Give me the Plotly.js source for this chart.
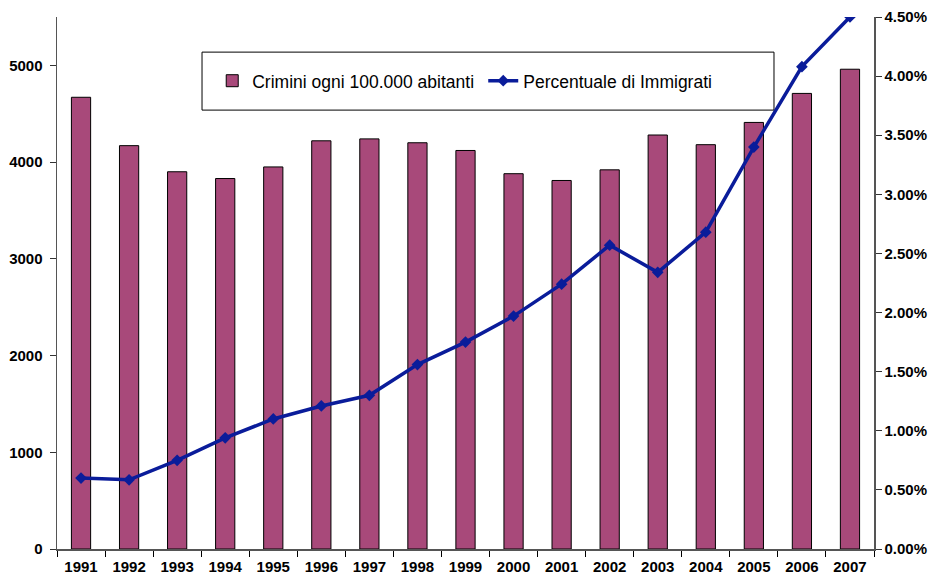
<!DOCTYPE html>
<html>
<head>
<meta charset="utf-8">
<script src="https://cdn.plot.ly/plotly-3.0.1.min.js"></script>
<style>html,body{margin:0;padding:0;background:#fff;}#chart{width:940px;height:575px;}</style>
</head>
<body>
<div id="chart"></div>
<script>
const years = ["1991","1992","1993","1994","1995","1996","1997","1998","1999","2000","2001","2002","2003","2004","2005","2006","2007"];
const crimini = [4670,4170,3900,3830,3950,4220,4240,4200,4120,3880,3810,3920,4280,4180,4410,4710,4960];
const immigrati = [0.60,0.585,0.75,0.94,1.10,1.21,1.30,1.56,1.75,1.97,2.24,2.57,2.34,2.68,3.40,4.08,4.50];
const leftTicks = [0,1000,2000,3000,4000,5000];
const rightTicks = [0,0.5,1,1.5,2,2.5,3,3.5,4,4.5];

const tickFont = {family:"Liberation Sans, Arial, sans-serif", size:15, color:"#000", weight:"bold"};

const traces = [
  {type:"bar", x:years, y:crimini, name:"Crimini ogni 100.000 abitanti",
   marker:{color:"#a8497a", line:{color:"#000", width:1}}, yaxis:"y"},
  {type:"scatter", mode:"lines+markers", x:years, y:immigrati, name:"Percentuale di Immigrati",
   line:{color:"#0a1c9a", width:3.5}, marker:{symbol:"diamond", size:9, color:"#0a1c9a"}, yaxis:"y2"}
];

const layout = {
  width:940, height:575,
  margin:{l:57, r:66, t:17, b:26},
  paper_bgcolor:"#fff", plot_bgcolor:"#fff",
  bargap:0.6,
  showlegend:true,
  legend:{orientation:"h", x:0.19, y:0.88, xanchor:"left", yanchor:"middle",
    font:{family:"Liberation Sans, Arial, sans-serif", size:17.5, color:"#000"},
    bgcolor:"rgba(0,0,0,0)", borderwidth:0, entrywidth:226, itemwidth:30, traceorder:"normal"},
  shapes:[{type:"rect", xref:"paper", yref:"paper", x0:0.1775, x1:0.8776, y0:0.825, y1:0.934,
    line:{color:"#000", width:1}, fillcolor:"rgba(0,0,0,0)", layer:"below"}],
  xaxis:{type:"category", range:[-0.5,16.5], tickson:"boundaries", ticks:"outside", ticklen:6,
    tickcolor:"#000", showline:true, linecolor:"#555", linewidth:1.5, showgrid:false,
    tickfont:tickFont, fixedrange:true, zeroline:false, ticklabelstandoff:3},
  yaxis:{range:[0,5500], tickvals:leftTicks, ticktext:leftTicks.map(String), ticks:"outside", ticklen:6,
    tickcolor:"#333", showline:true, linecolor:"#555", linewidth:1.5, showgrid:false, zeroline:false,
    tickfont:tickFont, ticklabelstandoff:4},
  yaxis2:{overlaying:"y", side:"right", range:[0,4.5], tickvals:rightTicks,
    ticktext:rightTicks.map(v=>v.toFixed(2)+"%"), ticks:"outside", ticklen:6, tickcolor:"#333",
    showline:true, linecolor:"#555", linewidth:1.5, showgrid:false, zeroline:false, tickfont:tickFont}
};

Plotly.newPlot("chart", traces, layout, {displayModeBar:false, staticPlot:true});
</script>
</body>
</html>
